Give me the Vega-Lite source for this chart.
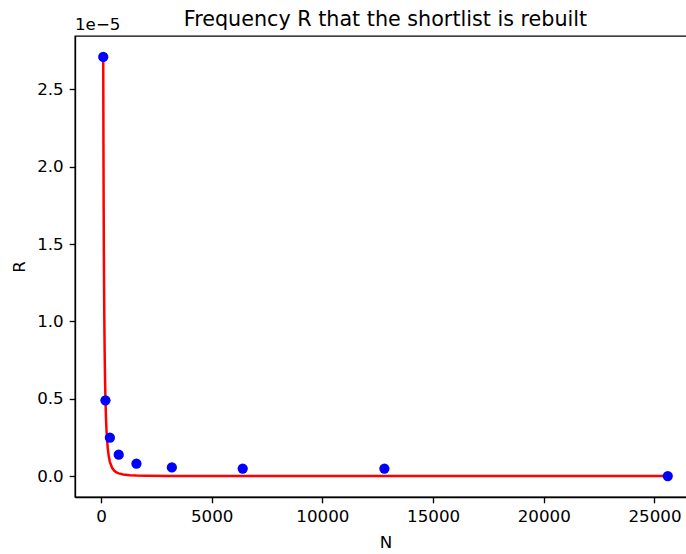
{
  "$schema": "https://vega.github.io/schema/vega-lite/v6.json",
  "autosize": "none",
  "width": 621,
  "height": 461,
  "padding": {"left": 75, "top": 36, "right": 0, "bottom": 57},
  "title": {"text": "Frequency R that the shortlist is rebuilt", "font": "DejaVu Sans", "fontSize": 20.7, "fontWeight": "normal", "color": "#000000", "offset": 0, "dy": 30, "baseline": "alphabetic", "anchor": "middle", "frame": "group"},
  "datasets": {
    "points": [
      {"N": 100, "R": 2.71e-5},
      {"N": 200, "R": 0.49e-5},
      {"N": 400, "R": 0.248e-5},
      {"N": 800, "R": 0.138e-5},
      {"N": 1600, "R": 0.080e-5},
      {"N": 3200, "R": 0.056e-5},
      {"N": 6400, "R": 0.048e-5},
      {"N": 12800, "R": 0.048e-5},
      {"N": 25600, "R": 0.0}
    ],
    "fit": [
      {"N": 100, "R": 2.71e-5},
      {"N": 110, "R": 2.148e-5},
      {"N": 120, "R": 1.737e-5},
      {"N": 130, "R": 1.429e-5},
      {"N": 140, "R": 1.192e-5},
      {"N": 150, "R": 1.008e-5},
      {"N": 165, "R": 0.799e-5},
      {"N": 180, "R": 0.646e-5},
      {"N": 200, "R": 0.5e-5},
      {"N": 225, "R": 0.3746e-5},
      {"N": 250, "R": 0.2898e-5},
      {"N": 300, "R": 0.1857e-5},
      {"N": 350, "R": 0.1275e-5},
      {"N": 400, "R": 0.092e-5},
      {"N": 500, "R": 0.0534e-5},
      {"N": 600, "R": 0.0343e-5},
      {"N": 700, "R": 0.0235e-5},
      {"N": 800, "R": 0.017e-5},
      {"N": 1000, "R": 0.0098e-5},
      {"N": 1300, "R": 0.0052e-5},
      {"N": 1600, "R": 0.0031e-5},
      {"N": 2000, "R": 0.0018e-5},
      {"N": 3000, "R": 0.00067e-5},
      {"N": 5000, "R": 0.0002e-5},
      {"N": 10000, "R": 0.00003e-5},
      {"N": 25600, "R": 0.0}
    ],
    "offset": [{"N": -1175, "R": 2.8455e-5, "label": "1e−5"}]
  },
  "layer": [
    {
      "data": {"name": "fit"},
      "mark": {"type": "line", "color": "#ff0000", "strokeWidth": 2.5, "clip": true},
      "encoding": {
        "x": {"field": "N", "type": "quantitative", "scale": {"domain": [-1175, 26875], "nice": false, "zero": false},
              "axis": {"title": "N", "values": [0, 5000, 10000, 15000, 20000, 25000], "format": "d"}},
        "y": {"field": "R", "type": "quantitative", "scale": {"domain": [-0.1355e-5, 2.8455e-5], "nice": false, "zero": false},
              "axis": {"title": "R", "values": [0, 0.5e-5, 1.0e-5, 1.5e-5, 2.0e-5, 2.5e-5], "labelExpr": "format(datum.value*1e5, '.1f')"}}
      }
    },
    {
      "data": {"name": "points"},
      "mark": {"type": "circle", "color": "#0000ff", "opacity": 1, "size": 105},
      "encoding": {
        "x": {"field": "N", "type": "quantitative"},
        "y": {"field": "R", "type": "quantitative"}
      }
    },
    {
      "data": {"name": "offset"},
      "mark": {"type": "text", "align": "left", "baseline": "alphabetic", "dy": -6, "font": "DejaVu Sans", "fontSize": 16.7, "color": "#000000", "clip": false},
      "encoding": {
        "x": {"field": "N", "type": "quantitative"},
        "y": {"field": "R", "type": "quantitative"},
        "text": {"field": "label"}
      }
    }
  ],
  "config": {
    "view": {"stroke": "#000000", "strokeWidth": 1.33},
    "axis": {
      "grid": false,
      "domainColor": "#000000",
      "domainWidth": 1.33,
      "tickColor": "#000000",
      "tickWidth": 1.33,
      "tickSize": 5.8,
      "labelPadding": 6,
      "labelFont": "DejaVu Sans",
      "labelFontSize": 16.7,
      "labelColor": "#000000",
      "titleFont": "DejaVu Sans",
      "titleFontSize": 16.7,
      "titleFontWeight": "normal",
      "titleColor": "#000000"
    },
    "axisX": {"titlePadding": 9},
    "axisY": {"titlePadding": 8}
  }
}
